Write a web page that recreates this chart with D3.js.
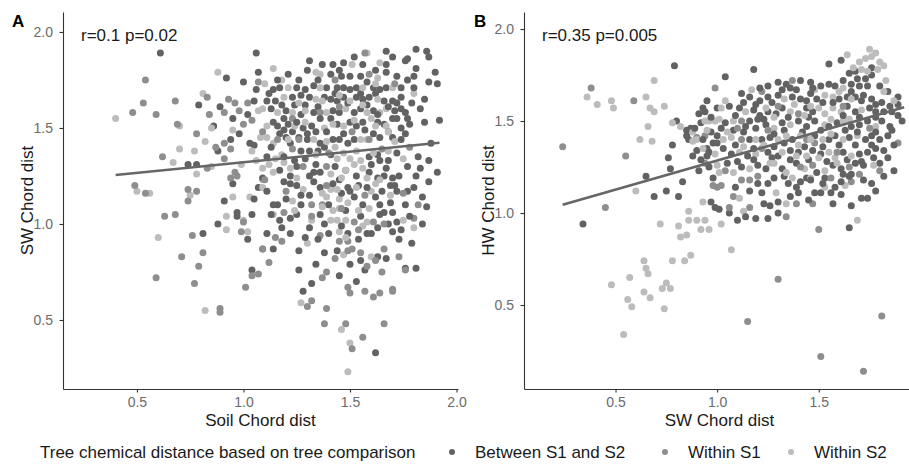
<!DOCTYPE html>
<html>
<head>
<meta charset="utf-8">
<script src="https://cdn.jsdelivr.net/npm/d3@7"></script>
<style>
  body { margin: 0; background: #fff; }
  svg { font-family: "Liberation Sans", Arial, sans-serif; }
  .axis path, .axis line { stroke: #333; stroke-width: 1.1; }
  .axis text { fill: #6b6b6b; font-size: 14px; font-family: "Liberation Sans", Arial, sans-serif; }
</style>
</head>
<body>
<svg width="909" height="464"></svg>
<script>
const groups = ["Between S1 and S2", "Within S1", "Within S2"];
const colors = ["#626262", "#8e8e8e", "#bcbcbc"];
const xTicks = [0.5, 1.0, 1.5, 2.0];
const yTicks = [0.5, 1.0, 1.5, 2.0];

// panel A: Soil Chord dist vs SW Chord dist
const aBetween = [[0.61,1.89],[0.92,1.76],[1.0,1.74],[1.06,1.89],[1.07,1.79],[0.79,1.62],[0.89,1.61],[0.95,1.55],[0.86,1.51],[0.94,1.44],[0.88,1.38],[0.74,1.31],[0.78,1.31],[0.95,1.21],[1.03,1.42],[1.05,1.41],[0.88,1.0],[0.97,1.06],[0.97,1.04],[1.04,1.05],[1.07,1.19],[0.81,0.95],[1.04,0.76],[1.06,1.70],
  [1.67,1.90],[1.81,1.91],[1.86,1.90],[1.87,1.87],[1.76,1.85],[1.77,1.86],[1.90,1.79],[1.80,1.77],[1.91,1.73],[1.87,1.74],[1.85,1.65],[1.83,1.60],[1.92,1.54],[1.76,1.47],[1.82,1.35],[1.87,1.33],[1.83,1.29],[1.91,1.27],[1.87,1.22],[1.81,1.25],[1.77,1.17],[1.80,1.19],[1.86,1.09],[1.84,1.0],[1.72,1.01],[1.74,0.97],[1.70,0.96],[1.73,0.92],[1.81,0.77],[1.76,0.77],[1.63,0.83],[1.57,0.76],[1.55,0.81],[1.62,0.33],[1.28,0.65],[1.32,0.69],[1.34,0.79],[1.44,0.86],[1.50,0.79],[1.49,0.95],[1.40,0.95],[1.31,0.98],[1.26,0.86],[1.14,0.87],[1.11,0.95],[1.18,0.98],[1.17,1.02],[1.22,1.03],[1.25,1.05],[1.14,1.10],[1.16,1.10],[1.27,1.10],[1.36,1.05],[1.38,1.0],[1.55,1.04],[1.64,1.05],[1.66,1.06],[1.70,1.06],[1.63,0.98],[1.58,0.95],[1.64,1.10],[1.36,1.19],[1.31,1.15],[1.49,1.19],[1.50,1.17],[1.54,1.20],[1.63,1.24],[1.66,1.25],[1.70,1.24],[1.67,1.29],[1.71,1.20],[1.72,1.17],[1.65,1.17],[1.45,1.23],[1.36,1.27],[1.33,1.27],[1.31,1.25],[1.25,1.30],[1.17,1.28],[1.22,1.25],[1.22,1.21],[1.19,1.22],[1.09,1.24],[1.11,1.35],[1.27,1.38],[1.31,1.38],[1.35,1.38],[1.38,1.40],[1.41,1.36],[1.59,1.27],[1.59,1.35],[1.63,1.36],[1.64,1.33],[1.70,1.45],[1.74,1.50],[1.64,1.45],[1.52,1.44],[1.49,1.42],[1.45,1.44],[1.42,1.44],[1.36,1.42],[1.30,1.44],[1.26,1.45],[1.23,1.48],[1.20,1.45],[1.14,1.53],[1.16,1.51],[1.19,1.49],[1.19,1.55],[1.21,1.52],[1.28,1.50],[1.32,1.51],[1.34,1.48],[1.41,1.55],[1.44,1.52],[1.50,1.53],[1.53,1.51],[1.56,1.53],[1.63,1.53],[1.66,1.52],[1.70,1.55],[1.72,1.55],[1.77,1.55],[1.74,1.60],[1.71,1.59],[1.61,1.59],[1.55,1.60],[1.52,1.58],[1.45,1.58],[1.42,1.59],[1.33,1.58],[1.27,1.57],[1.20,1.59],[1.13,1.60],[1.11,1.64],[1.15,1.64],[1.23,1.66],[1.27,1.67],[1.31,1.66],[1.41,1.65],[1.44,1.64],[1.47,1.66],[1.53,1.66],[1.56,1.65],[1.59,1.66],[1.66,1.64],[1.70,1.64],[1.74,1.66],[1.74,1.71],[1.67,1.71],[1.64,1.70],[1.61,1.71],[1.53,1.71],[1.50,1.70],[1.47,1.71],[1.44,1.71],[1.39,1.71],[1.33,1.72],[1.29,1.70],[1.25,1.71],[1.17,1.71],[1.14,1.70],[1.26,1.75],[1.30,1.80],[1.31,1.85],[1.41,1.78],[1.42,1.83],[1.47,1.84],[1.46,1.77],[1.56,1.83],[1.50,1.77],[1.55,1.77],[1.67,1.79],[1.67,1.83],[1.72,1.77],[1.77,1.75],[1.80,1.71],
  [1.12,1.68],[1.18,1.62],[1.24,1.62],[1.29,1.62],[1.35,1.61],[1.38,1.66],[1.43,1.68],[1.49,1.63],[1.55,1.68],[1.58,1.62],[1.62,1.68],[1.68,1.61],[1.72,1.63],[1.76,1.58],[1.79,1.63],[1.78,1.52],[1.74,1.44],[1.68,1.48],[1.61,1.47],[1.57,1.49],[1.47,1.47],[1.39,1.48],[1.30,1.47],[1.22,1.42],[1.17,1.47],[1.13,1.40],[1.19,1.35],[1.24,1.33],[1.29,1.34],[1.34,1.31],[1.43,1.30],[1.48,1.28],[1.53,1.25],[1.60,1.31],[1.68,1.33],[1.72,1.37],[1.77,1.30],[1.73,1.25],[1.69,1.20],[1.62,1.14],[1.58,1.19],[1.52,1.14],[1.46,1.16],[1.42,1.21],[1.33,1.22],[1.27,1.15],[1.20,1.13],[1.25,1.20],[1.40,1.10],[1.48,1.07],[1.56,1.10],[1.69,1.11],[1.76,1.10],[1.78,1.04],[1.68,1.00],[1.60,0.95],[1.54,0.92],[1.46,0.99],[1.35,0.92],[1.29,0.93],[1.22,0.95],[1.26,0.76],[1.38,0.85],[1.45,0.73],[1.53,0.70],[1.67,0.82],[1.79,0.90],[1.84,1.14],[1.88,1.42],[1.85,1.53],[1.81,1.81],[1.70,1.87],[1.62,1.80],[1.52,1.87],[1.45,1.80],[1.37,1.83],[1.21,1.78],[1.16,1.75],[1.35,1.75],[1.58,1.74],[1.63,1.57],[1.36,1.55],[1.25,1.53],[1.05,1.64],[1.02,1.57],[0.98,1.47],[1.11,1.17],[1.05,1.13],[1.13,1.05],[0.91,1.12],[1.02,0.92]];
const aWithinS1 = [[0.48,1.58],[0.53,1.63],[0.54,1.75],[0.59,1.57],[0.68,1.64],[0.69,1.52],[0.83,1.66],[0.93,1.65],[0.96,1.63],[0.91,1.58],[0.98,1.59],[1.02,1.63],[0.84,1.57],[1.0,1.52],[1.04,1.54],[0.78,1.47],[0.91,1.42],[0.87,1.40],[0.94,1.39],[0.62,1.35],[0.83,1.29],[0.91,1.34],[0.96,1.27],[0.94,1.24],[0.97,1.25],[0.49,1.20],[0.54,1.16],[0.74,1.18],[0.78,1.17],[0.74,1.12],[0.63,1.04],[0.68,1.05],[1.0,1.01],[0.99,0.96],[0.76,0.94],[0.81,0.85],[0.71,0.83],[0.79,0.78],[0.59,0.72],[0.77,0.69],[1.04,0.73],[1.07,0.74],[1.01,0.67],[1.09,0.87],[0.89,0.56],[0.89,0.54],[1.07,1.74],
  [1.57,1.89],[1.82,1.10],[1.80,1.03],[1.76,0.76],[1.73,0.83],[1.66,0.87],[1.70,0.66],[1.70,0.65],[1.65,0.75],[1.62,0.81],[1.58,0.78],[1.55,0.85],[1.49,0.67],[1.50,0.64],[1.57,0.65],[1.61,0.62],[1.64,0.64],[1.66,0.48],[1.56,0.41],[1.51,0.35],[1.48,0.48],[1.38,0.48],[1.39,0.56],[1.32,0.60],[1.30,0.57],[1.37,0.72],[1.39,0.75],[1.43,0.82],[1.49,0.86],[1.51,0.87],[1.45,0.91],[1.49,0.91],[1.36,0.94],[1.09,0.87],[1.18,0.91],[1.15,0.93],[1.19,1.06],[1.32,1.10],[1.37,1.10],[1.52,1.01],[1.61,1.01],[1.39,1.20],[1.57,1.15],[1.39,1.30],[1.28,1.30],[1.10,1.23],[1.23,1.39],[1.16,1.44],[1.09,1.48],[1.59,1.44],[1.36,1.58],[1.59,1.78],[1.71,1.73],
  [1.26,1.44],[1.45,1.61],[1.51,1.48],[1.40,1.37],[1.20,1.17],[1.54,0.97],[1.66,1.00],[1.75,1.16],[1.43,1.75],[1.23,1.55],[1.65,1.39],[1.32,1.04],[1.12,0.80],[1.46,1.08],[1.78,1.40]];
const aWithinS2 = [[0.40,1.55],[0.70,1.51],[0.88,1.79],[0.81,1.68],[0.85,1.50],[0.95,1.49],[0.82,1.43],[0.77,1.38],[0.70,1.39],[0.67,1.32],[0.78,1.26],[0.85,1.30],[0.99,1.31],[1.04,1.38],[1.06,1.33],[0.50,1.17],[0.56,1.16],[0.75,1.15],[0.60,0.93],[0.92,1.04],[0.92,0.97],[1.0,1.02],[1.02,0.96],[0.95,1.14],[1.03,1.14],[0.82,0.55],[1.07,1.59],[1.08,1.45],[1.09,1.23],
  [1.58,1.89],[1.80,1.68],[1.75,1.34],[1.80,0.98],[1.75,1.02],[1.60,0.83],[1.50,0.38],[1.49,0.23],[1.46,0.45],[1.27,0.59],[1.47,0.84],[1.45,0.96],[1.30,0.90],[1.14,1.05],[1.24,1.07],[1.23,1.12],[1.32,1.02],[1.41,1.02],[1.44,1.02],[1.48,1.02],[1.58,1.01],[1.56,0.99],[1.54,1.07],[1.59,1.08],[1.45,1.08],[1.42,1.07],[1.45,1.13],[1.39,1.14],[1.37,1.16],[1.41,1.18],[1.28,1.18],[1.46,1.24],[1.60,1.17],[1.62,1.21],[1.64,1.23],[1.69,1.15],[1.41,1.26],[1.22,1.29],[1.19,1.32],[1.14,1.27],[1.12,1.31],[1.09,1.29],[1.09,1.19],[1.15,1.34],[1.18,1.36],[1.44,1.34],[1.47,1.37],[1.50,1.34],[1.55,1.33],[1.52,1.31],[1.56,1.29],[1.68,1.38],[1.71,1.43],[1.67,1.51],[1.62,1.51],[1.58,1.44],[1.55,1.44],[1.39,1.43],[1.33,1.44],[1.14,1.42],[1.11,1.45],[1.11,1.51],[1.24,1.51],[1.38,1.50],[1.47,1.51],[1.60,1.55],[1.67,1.60],[1.64,1.58],[1.58,1.58],[1.48,1.60],[1.39,1.58],[1.29,1.59],[1.23,1.58],[1.16,1.58],[1.09,1.60],[1.19,1.66],[1.34,1.65],[1.37,1.64],[1.50,1.64],[1.63,1.65],[1.70,1.71],[1.56,1.71],[1.36,1.71],[1.21,1.71],[1.10,1.73],[1.14,1.81],[1.18,1.75],[1.36,1.78],[1.34,1.79],[1.51,1.83],[1.63,1.76],[1.64,1.84],
  [1.43,1.40],[1.53,1.38],[1.61,1.37],[1.34,1.36],[1.48,1.28],[1.53,1.19],[1.44,1.18],[1.37,1.09],[1.49,1.11],[1.58,1.24],[1.68,1.48],[1.52,1.54],[1.42,1.52],[1.29,1.53],[1.56,1.62],[1.45,1.67],[1.26,1.63],[1.62,1.73],[1.21,1.44],[1.48,0.93],[1.25,1.24]];
const aFit = [[0.40,1.255],[1.92,1.423]];

// panel B: SW Chord dist vs HW Chord dist
const bBetween = [[0.79,1.80],[0.80,1.50],[0.78,1.37],[0.76,1.30],[0.77,1.24],[0.65,1.20],[0.34,0.94],[0.69,1.09],[0.75,1.12],[0.81,1.09],[0.83,1.17],[0.97,1.06],[0.99,1.03],[0.98,1.19],[0.95,1.61],[0.93,1.57],[0.94,1.55],[0.92,1.49],[0.85,1.45],[0.87,1.46],[0.86,1.40],[0.85,1.42],[0.97,1.44],[0.98,1.38],[0.95,1.35],[0.95,1.31],[0.96,1.33],[1.0,1.42],[1.0,1.57],
  [1.18,1.78],[1.04,1.74],[1.55,1.81],[1.61,1.83],[1.76,1.79],[1.68,1.77],[1.65,1.76],[1.76,1.75],[1.89,1.63],[1.91,1.50],[1.87,1.23],[1.76,1.16],[1.71,1.08],[1.74,1.08],[1.65,0.92],[1.10,0.96],[1.19,0.97],[1.06,1.0],[1.01,1.02],[1.25,0.97],[1.26,1.04],[1.30,1.0],[1.30,1.06],[1.40,1.11],[1.48,1.11],[1.51,1.11],[1.57,1.05],[1.61,1.10],[1.66,1.21],[1.72,1.26],[1.80,1.27],[1.82,1.34],[1.85,1.47],[1.86,1.55],[1.89,1.59],[1.84,1.66],[1.80,1.69],[1.74,1.69],[1.70,1.69],[1.66,1.70],[1.58,1.69],[1.55,1.70],[1.51,1.69],[1.46,1.71],[1.41,1.72],[1.34,1.70],[1.30,1.71],[1.25,1.69],[1.16,1.63],[1.21,1.61],[1.25,1.63],[1.30,1.64],[1.37,1.63],[1.41,1.62],[1.44,1.61],[1.49,1.62],[1.60,1.62],[1.64,1.63],[1.68,1.63],[1.71,1.61],[1.76,1.62],[1.81,1.60],[1.85,1.58],[1.82,1.55],[1.78,1.55],[1.75,1.57],[1.68,1.55],[1.64,1.58],[1.47,1.55],[1.44,1.57],[1.32,1.57],[1.29,1.54],[1.25,1.55],[1.21,1.53],[1.18,1.56],[1.11,1.57],[1.06,1.58],[1.04,1.49],[1.16,1.50],[1.20,1.51],[1.24,1.48],[1.32,1.49],[1.40,1.50],[1.44,1.47],[1.48,1.50],[1.59,1.49],[1.66,1.47],[1.70,1.48],[1.74,1.50],[1.81,1.50],[1.76,1.42],[1.73,1.40],[1.65,1.41],[1.58,1.42],[1.55,1.40],[1.48,1.42],[1.37,1.40],[1.26,1.41],[1.22,1.40],[1.16,1.40],[1.0,1.38],[1.03,1.35],[1.07,1.32],[1.15,1.31],[1.25,1.33],[1.30,1.31],[1.36,1.34],[1.40,1.33],[1.47,1.34],[1.51,1.32],[1.62,1.33],[1.70,1.32],[1.74,1.33],[1.78,1.35],[1.80,1.40],[1.68,1.27],[1.61,1.24],[1.57,1.26],[1.49,1.22],[1.39,1.27],[1.32,1.24],[1.24,1.24],[1.20,1.26],[1.12,1.25],[1.20,1.16],[1.22,1.11],[1.25,1.16],[1.33,1.20],[1.41,1.17],[1.44,1.19],[1.53,1.19],[1.56,1.11],[1.61,1.17],[1.65,1.20],[1.39,1.14],
  [1.02,1.46],[1.08,1.45],[1.13,1.44],[1.19,1.46],[1.28,1.43],[1.33,1.45],[1.42,1.44],[1.51,1.45],[1.55,1.47],[1.63,1.45],[1.69,1.44],[1.78,1.44],[1.84,1.42],[1.87,1.37],[1.84,1.30],[1.77,1.30],[1.71,1.28],[1.64,1.29],[1.54,1.28],[1.45,1.29],[1.36,1.29],[1.27,1.30],[1.18,1.29],[1.10,1.28],[1.05,1.27],[1.09,1.37],[1.18,1.35],[1.28,1.36],[1.33,1.38],[1.43,1.36],[1.52,1.36],[1.60,1.37],[1.68,1.37],[1.76,1.37],[1.86,1.45],[1.89,1.53],[1.78,1.59],[1.72,1.64],[1.66,1.66],[1.57,1.60],[1.52,1.60],[1.46,1.65],[1.39,1.67],[1.32,1.67],[1.27,1.60],[1.19,1.59],[1.13,1.60],[1.09,1.53],[1.14,1.47],[1.23,1.51],[1.35,1.52],[1.45,1.52],[1.62,1.53],[1.70,1.52],[1.78,1.52],[1.73,1.73],[1.69,1.73],[1.62,1.72],[1.47,1.68],[1.36,1.68],[1.21,1.68],[1.12,1.65],[1.72,1.18],[1.62,1.21],[1.52,1.16],[1.46,1.18],[1.35,1.16],[1.28,1.19],[1.16,1.12],[1.09,1.14],[1.36,1.09],[1.58,1.14],[1.82,1.20],[1.78,1.12],[1.66,1.04],[1.45,1.07],[1.23,1.05],[1.14,0.98],[0.90,1.34],[0.92,1.29],[0.88,1.31],[0.91,1.23],[0.96,1.25],[0.93,1.40],[0.89,1.46],[0.97,1.52],[0.91,1.54]];
const bWithinS1 = [[0.38,1.68],[0.59,1.61],[0.24,1.36],[0.55,1.31],[0.45,1.03],[0.99,1.68],[0.90,1.41],[0.94,1.42],[1.0,1.14],[0.98,1.15],
  [1.89,1.38],[1.50,0.91],[1.30,0.64],[1.15,0.41],[1.81,0.44],[1.51,0.22],[1.72,0.14],[1.08,1.09],[1.16,1.03],[1.34,0.98],[1.39,1.05],[1.47,1.05],[1.66,1.17],[1.70,1.21],[1.37,1.72],[1.22,1.66],[1.12,1.50],[1.40,1.54],[1.44,1.40],[1.12,1.40],[1.22,1.35],[1.65,1.25],[1.47,1.26],[1.04,1.23],[1.02,1.15],[1.12,1.18],[1.16,1.18],[1.06,1.03],
  [1.25,1.45],[1.48,1.38],[1.59,1.33],[1.75,1.46],[1.62,1.58],[1.30,1.58],[1.41,1.25],[1.56,1.19],[1.20,1.20],[0.94,1.27],[1.80,1.23],[1.10,1.46]];
const bWithinS2 = [[0.69,1.72],[0.36,1.63],[0.41,1.59],[0.48,1.61],[0.49,1.57],[0.65,1.63],[0.67,1.57],[0.69,1.55],[0.74,1.58],[0.78,1.49],[0.66,1.47],[0.62,1.40],[0.68,1.39],[0.60,1.12],[0.86,1.01],[0.72,0.94],[0.81,0.93],[0.86,0.96],[0.82,0.87],[0.85,0.88],[0.90,0.96],[0.94,0.96],[0.92,0.91],[0.96,0.91],[0.93,1.06],[0.64,0.74],[0.65,0.70],[0.66,0.67],[0.57,0.65],[0.48,0.61],[0.56,0.53],[0.58,0.49],[0.64,0.57],[0.67,0.54],[0.73,0.59],[0.75,0.62],[0.77,0.59],[0.74,0.48],[0.78,0.74],[0.84,0.74],[0.87,0.77],[0.54,0.34],[0.82,1.47],[0.88,1.39],[0.90,1.40],[0.95,1.45],[0.99,1.50],[0.96,1.50],[0.94,1.50],[0.99,1.32],[1.0,1.26],
  [1.64,1.86],[1.75,1.89],[1.78,1.87],[1.76,1.85],[1.73,1.84],[1.70,1.82],[1.80,1.82],[1.82,1.80],[1.71,1.78],[1.83,1.72],[1.07,0.80],[1.02,0.94],[1.13,1.01],[1.69,0.96],[1.29,1.11],[1.34,1.05],[1.53,1.14],[1.63,1.15],[1.77,1.26],[1.87,1.61],[1.82,1.66],[1.62,1.68],[1.48,1.67],[1.17,1.67],[1.33,1.62],[1.53,1.64],[1.57,1.63],[1.71,1.56],[1.61,1.55],[1.57,1.57],[1.53,1.54],[1.50,1.57],[1.36,1.55],[1.14,1.55],[1.04,1.61],[1.02,1.57],[1.01,1.51],[1.08,1.50],[1.28,1.46],[1.36,1.48],[1.53,1.48],[1.56,1.51],[1.62,1.50],[1.78,1.47],[1.69,1.42],[1.62,1.40],[1.52,1.40],[1.41,1.42],[1.34,1.42],[1.30,1.40],[1.19,1.40],[1.07,1.41],[1.03,1.40],[1.11,1.33],[1.19,1.32],[1.32,1.33],[1.44,1.31],[1.55,1.33],[1.58,1.30],[1.66,1.31],[1.53,1.23],[1.43,1.24],[1.34,1.22],[1.37,1.19],[1.28,1.27],[1.16,1.24],[1.08,1.22],[1.01,1.22],[1.11,1.08],
  [1.23,1.37],[1.40,1.37],[1.46,1.40],[1.56,1.43],[1.65,1.51],[1.43,1.53],[1.28,1.52],[1.50,1.30],[1.39,1.31],[1.26,1.27],[1.46,1.19],[1.59,1.27],[1.66,1.62],[1.46,1.58],[1.60,1.66],[1.38,1.59],[1.24,1.57],[1.13,1.36],[1.05,1.44],[0.93,1.35],[0.88,1.44],[1.74,1.77],[1.67,1.79],[1.79,1.78]];
const bFit = [[0.24,1.045],[1.92,1.575]];

const svg = d3.select("svg");

// mix the groups so no colour sits fully on top
function mixGroups(sets) {
  const all = [];
  sets.forEach((s, g) => s.forEach((d, i) => all.push({ x: d[0], y: d[1], g, k: (i + 0.5) / s.length })));
  return all.sort((a, b) => a.k - b.k);
}

function drawPanel(o) {
  const x = d3.scaleLinear().domain(o.xDomain).range([o.left, o.right]);
  const y = d3.scaleLinear().domain(o.yDomain).range([o.bottom, o.top]);

  svg.append("g").attr("class", "axis")
    .attr("transform", `translate(0,${o.bottom})`)
    .call(d3.axisBottom(x).tickValues(o.xTicks).tickFormat(d3.format(".1f")).tickSize(3.5).tickSizeOuter(0).tickPadding(4.5));
  svg.append("g").attr("class", "axis")
    .attr("transform", `translate(${o.left},0)`)
    .call(d3.axisLeft(y).tickValues(yTicks).tickFormat(d3.format(".1f")).tickSize(3.5).tickSizeOuter(0).tickPadding(6.5));

  svg.append("g").selectAll("circle")
    .data(mixGroups(o.sets))
    .join("circle")
    .attr("cx", d => x(d.x))
    .attr("cy", d => y(d.y))
    .attr("r", 3.5)
    .attr("fill", d => colors[d.g]);

  svg.append("path")
    .datum(o.fit)
    .attr("fill", "none")
    .attr("stroke", "#666")
    .attr("stroke-width", 2.6)
    .attr("d", d3.line().x(d => x(d[0])).y(d => y(d[1])));

  svg.append("text").attr("x", o.left + 18).attr("y", 41)
    .attr("font-size", 17).attr("fill", "#1a1a1a").text(o.stat);
  svg.append("text").attr("x", o.tagX).attr("y", 27)
    .attr("font-size", 17).attr("font-weight", "bold").attr("fill", "#000").text(o.tag);
  svg.append("text").attr("x", (o.left + o.right) / 2 + o.xTitleShift).attr("y", 426)
    .attr("text-anchor", "middle").attr("font-size", 17).attr("fill", "#1a1a1a").text(o.xTitle);
  svg.append("text")
    .attr("transform", `translate(${o.left - 30},${(o.top + o.bottom) / 2}) rotate(-90)`)
    .attr("text-anchor", "middle").attr("font-size", 17).attr("fill", "#1a1a1a").text(o.yTitle);
}

drawPanel({
  sets: [aBetween, aWithinS1, aWithinS2], fit: aFit,
  xDomain: [0.153, 2.007], yDomain: [0.1406, 2.104], xTicks: xTicks,
  left: 63, right: 458, top: 12, bottom: 389,
  stat: "r=0.1 p=0.02", tag: "A", tagX: 12,
  xTitle: "Soil Chord dist", yTitle: "SW Chord dist", xTitleShift: 0
});

drawPanel({
  sets: [bBetween, bWithinS1, bWithinS2], fit: bFit,
  xDomain: [0.0497, 1.944], yDomain: [0.0435, 2.0924], xTicks: [0.5, 1.0, 1.5],
  left: 524, right: 909, top: 12, bottom: 389,
  stat: "r=0.35 p=0.005", tag: "B", tagX: 474,
  xTitle: "SW Chord dist", yTitle: "HW Chord dist", xTitleShift: 3
});

// legend
const legend = svg.append("g").attr("font-size", 17).attr("fill", "#1a1a1a");
legend.append("text").attr("x", 40).attr("y", 458).text("Tree chemical distance based on tree comparison");
const legendX = [452, 665, 791];
groups.forEach((name, i) => {
  legend.append("circle").attr("cx", legendX[i]).attr("cy", 452).attr("r", 3).attr("fill", colors[i]);
  legend.append("text").attr("x", legendX[i] + 23).attr("y", 458).text(name);
});
</script>
</body>
</html>
